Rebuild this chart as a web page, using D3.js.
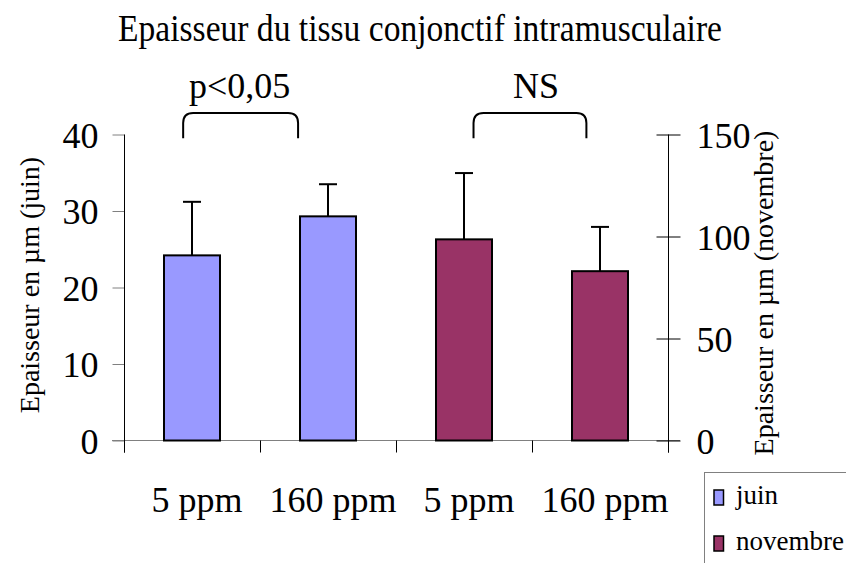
<!DOCTYPE html>
<html><head><meta charset="utf-8">
<script src="https://cdn.jsdelivr.net/npm/d3@7/dist/d3.min.js"></script>
<style>body{margin:0;background:#fff}svg{display:block}svg text{font-family:"Liberation Serif","Times New Roman",serif !important;fill:#000}</style>
</head><body>
<script>
const categories = ["juin-5", "juin-160", "nov-5", "nov-160"];
const categoryLabels = ["5 ppm", "160 ppm", "5 ppm", "160 ppm"];
const seriesOf = ["juin", "juin", "novembre", "novembre"];
const means = [24.2, 29.3, 98.6, 83.0];
const errors = [7.0, 4.2, 32.5, 21.7];
const leftTicks = [0, 10, 20, 30, 40];
const rightTicks = [0, 50, 100, 150];
const seriesNames = ["juin", "novembre"];
const seriesColors = ["#9999FF", "#993366"];
const brackets = [{from: -0.065, to: 0.78, label: "p<0,05", at: 0.35}, {from: 2.07, to: 2.9, label: "NS", at: 2.53}];
const title = "Epaisseur du tissu conjonctif intramusculaire";

const FONT = "Liberation Serif";
const W = 846, H = 563;
const L = 124, R = 668, T = 134.5, B = 440.5;
const svg = d3.select("body").append("svg").attr("width", W).attr("height", H).attr("font-family", FONT);

const x = d3.scaleBand().domain(categories).range([L, R]).paddingInner(1 - 56/136).paddingOuter((1 - 56/136)/2);
const xi = d3.scaleLinear().domain([0, 1]).range([x(categories[0]) + x.bandwidth()/2, x(categories[1]) + x.bandwidth()/2]);
const yL = d3.scaleLinear().domain([0, 40]).range([B, T]);
const yR = d3.scaleLinear().domain([0, 150]).range([B, T]);
const color = d3.scaleOrdinal().domain(seriesNames).range(seriesColors);
const yOf = i => seriesOf[i] === "juin" ? yL : yR;
const txt = (sel) => sel.append("text").attr("font-family", FONT).attr("fill", "#000");

// title
txt(svg).attr("x", 420).attr("y", 41).attr("text-anchor", "middle")
  .attr("font-size", 38).attr("textLength", 604).attr("lengthAdjust", "spacingAndGlyphs").text(title);

// x axis line & boundary ticks
svg.append("line").attr("x1", L - 12).attr("x2", R + 12).attr("y1", B).attr("y2", B).attr("stroke", "#808080").attr("stroke-width", 1);
const bounds = d3.range(categories.length + 1).map(i => L + i * x.step());
svg.selectAll(".bt").data(bounds).join("line").attr("x1", d => Math.round(d) + 0.5).attr("x2", d => Math.round(d) + 0.5)
  .attr("y1", B).attr("y2", B + 12).attr("stroke", "#000").attr("stroke-width", 1);

// left axis
const gl = svg.append("g").attr("transform", `translate(${L + 0.5},0)`)
  .call(d3.axisLeft(yL).tickValues(leftTicks).tickSize(12).tickPadding(14).tickFormat(d3.format("d")));
gl.attr("font-family", FONT);
gl.select(".domain").remove();
gl.selectAll(".tick line").attr("stroke", "#808080");
gl.selectAll(".tick text").attr("font-size", 36).attr("font-family", FONT).attr("dy", "0.36em").attr("fill", "#000");
svg.append("line").attr("x1", L + 0.5).attr("x2", L + 0.5).attr("y1", T).attr("y2", B + 12).attr("stroke", "#000");

// right axis
const gr = svg.append("g").attr("transform", `translate(${R + 0.5},0)`)
  .call(d3.axisRight(yR).tickValues(rightTicks).tickSize(12).tickPadding(16).tickFormat(d3.format("d")));
gr.attr("font-family", FONT);
gr.select(".domain").remove();
gr.selectAll(".tick line").attr("x1", -12).attr("stroke", "#000");
gr.selectAll(".tick text").attr("font-size", 36).attr("font-family", FONT).attr("dy", "0.36em").attr("fill", "#000");
svg.append("line").attr("x1", R + 0.5).attr("x2", R + 0.5).attr("y1", T).attr("y2", B + 12).attr("stroke", "#000");

// axis titles
txt(svg).attr("transform", `translate(39,285) rotate(-90)`).attr("text-anchor", "middle").attr("font-size", 28).text("Epaisseur en µm (juin)");
txt(svg).attr("transform", `translate(773,293) rotate(-90)`).attr("text-anchor", "middle").attr("font-size", 28).text("Epaisseur en µm (novembre)");

// category labels
svg.selectAll(".cl").data(categories).join("text").attr("font-family", FONT).attr("fill", "#000")
  .attr("x", d => x(d) + x.bandwidth()/2 + 5).attr("y", 512)
  .attr("text-anchor", "middle").attr("font-size", 36).text((d, i) => categoryLabels[i]);

// error bars (upper only)
const eg = svg.append("g").attr("stroke", "#000").attr("stroke-width", 2);
categories.forEach((c, i) => {
  const cx = x(c) + x.bandwidth()/2, s = yOf(i);
  eg.append("line").attr("x1", cx).attr("x2", cx).attr("y1", s(means[i])).attr("y2", s(means[i] + errors[i]));
  eg.append("line").attr("x1", cx - 9).attr("x2", cx + 9).attr("y1", s(means[i] + errors[i])).attr("y2", s(means[i] + errors[i]));
});

// bars
svg.selectAll(".bar").data(categories).join("rect")
  .attr("x", d => x(d)).attr("width", x.bandwidth())
  .attr("y", (d, i) => yOf(i)(means[i])).attr("height", (d, i) => B - yOf(i)(means[i]))
  .attr("fill", (d, i) => color(seriesOf[i])).attr("stroke", "#000").attr("stroke-width", 2);

// brackets
brackets.forEach(b => {
  const x1 = xi(b.from), x2 = xi(b.to), yt = yL(42.8), yb = yL(39.5), r = 10;
  svg.append("path").attr("d", `M${x1},${yb} L${x1},${yt + r} Q${x1},${yt} ${x1 + r},${yt} L${x2 - r},${yt} Q${x2},${yt} ${x2},${yt + r} L${x2},${yb}`)
    .attr("fill", "none").attr("stroke", "#000").attr("stroke-width", 2);
  txt(svg).attr("x", xi(b.at)).attr("y", 98).attr("text-anchor", "middle").attr("font-size", 36).text(b.label);
});

// legend
svg.append("rect").attr("x", 704.5).attr("y", 472.5).attr("width", 200).attr("height", 200).attr("fill", "#fff").attr("stroke", "#808080");
seriesNames.forEach((n, i) => {
  const yy = 490 + i * 46;
  svg.append("rect").attr("x", 714).attr("y", yy).attr("width", 9.5).attr("height", 15).attr("fill", color(n)).attr("stroke", "#000").attr("stroke-width", 1.5);
  txt(svg).attr("x", 736).attr("y", yy + 14).attr("font-size", 27).text(n);
});
</script>
</body></html>
